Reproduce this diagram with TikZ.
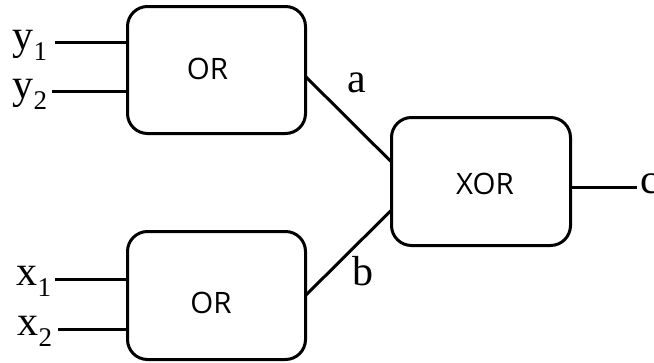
\documentclass[tikz,border=0pt]{standalone}
\usepackage{fontspec}
\setmainfont{Liberation Serif}
\newfontfamily\gatefont{Open Sans}
\usetikzlibrary{calc}
\newcommand\lowsub[1]{\raisebox{-11.5pt}{\fontsize{27}{29}\selectfont #1}}
\tikzset{
  gate/.style={draw, line width=3pt, rounded corners=20pt, inner sep=0pt, outer sep=0pt},
  wire/.style={line width=3pt},
  gatelabel/.style={font=\gatefont\fontsize{29.5}{32}\selectfont, inner sep=0pt, anchor=base},
  sig/.style={font=\fontsize{42}{44}\selectfont, inner sep=0pt, anchor=base west},
}
\begin{document}
\begin{tikzpicture}[x=1pt,y=-1pt]
  \useasboundingbox (0,0) rectangle (654,362);
  % gates
  \node[gate, minimum width=178pt, minimum height=127pt] (orT) at (216.5,70) {};
  \node[gate, minimum width=178pt, minimum height=128pt] (orB) at (216.5,295.5) {};
  \node[gate, minimum width=179pt, minimum height=128pt] (xor) at (481,181.5) {};
  \node[gatelabel] (tT) at (207.5,79) {OR};
  \node[gatelabel] (tB) at (211,313) {OR};
  \node[gatelabel] (tX) at (485,194) {XOR};
  % input labels
  \node[sig] (ly1) at (12.5,49) {y\lowsub{1}};
  \node[sig] (ly2) at (12.5,98) {y\lowsub{2}};
  \node[sig] (lx1) at (16.5,285) {x\lowsub{1}};
  \node[sig] (lx2) at (17.5,335) {x\lowsub{2}};
  % input wires
  \coordinate (y1s) at (55,42);
  \coordinate (y2s) at (52,91);
  \coordinate (x1s) at (55,279);
  \coordinate (x2s) at (58,329);
  \draw[wire] (y1s) -- (y1s -| orT.west);
  \draw[wire] (y2s) -- (y2s -| orT.west);
  \draw[wire] (x1s) -- (x1s -| orB.west);
  \draw[wire] (x2s) -- (x2s -| orB.west);
  % internal wires
  \draw[wire] ($(orT.north east)!0.551!(orT.south east)$) -- ($(xor.north west)!0.348!(xor.south west)$);
  \draw[wire] (orB.east) -- ($(xor.north west)!0.723!(xor.south west)$);
  \node[sig] (la) at (347,92) {a};
  \node[sig] (lb) at (352,285.5) {b};
  % output
  \coordinate (cend) at (637,187);
  \draw[wire] (xor.east |- cend) -- (cend);
  \node[sig] (lc) at (640.5,193) {c};
\end{tikzpicture}
\end{document}
